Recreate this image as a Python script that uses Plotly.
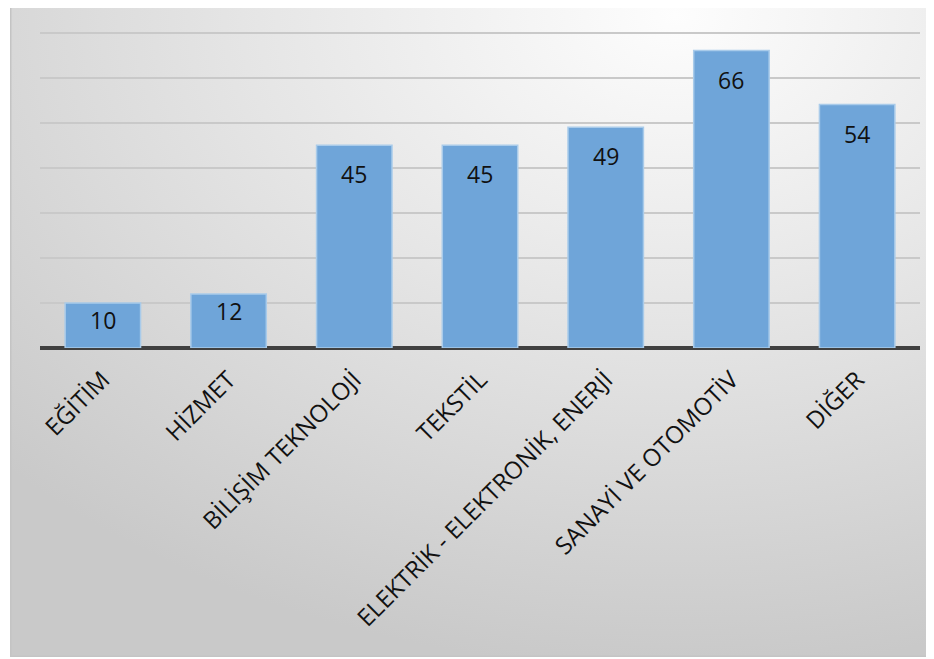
import plotly.graph_objects as go
import urllib.parse

categories = ["EĞİTİM", "HİZMET", "BİLİŞİM TEKNOLOJİ", "TEKSTİL",
              "ELEKTRİK - ELEKTRONİK, ENERJİ", "SANAYİ VE OTOMOTİV", "DİĞER"]
values = [10, 12, 45, 45, 49, 66, 54]
grid_ticks = [0, 10, 20, 30, 40, 50, 60, 70]

svg = ('<svg xmlns="http://www.w3.org/2000/svg" width="924" height="655" preserveAspectRatio="none">'
       '<defs><radialGradient id="g" cx="0.72" cy="0.02" r="1.0" fx="0.72" fy="0.02">'
       '<stop offset="0" stop-color="#fdfdfd"/><stop offset="0.45" stop-color="#e6e6e6"/>'
       '<stop offset="1" stop-color="#c9c9c9"/></radialGradient></defs>'
       '<rect width="924" height="655" fill="url(#g)" stroke="#c4c4c4" stroke-width="3"/></svg>')
src = "data:image/svg+xml;charset=utf-8," + urllib.parse.quote(svg)

fig = go.Figure(go.Bar(
    x=categories, y=values,
    marker=dict(color="#6fa5d9", line=dict(color="#a9cbea", width=1.5)),
    width=0.6,
))

for c, v in zip(categories, values):
    shift = -17 if v < 20 else -29
    fig.add_annotation(x=c, y=v, text=str(v), showarrow=False, yanchor="middle",
                       yshift=shift, font=dict(size=23, color="#111111"))

fig.update_layout(
    width=934, height=659,
    margin=dict(l=32, r=22, t=20, b=319),
    paper_bgcolor="white", plot_bgcolor="rgba(0,0,0,0)",
    font=dict(family="Open Sans, Lato, sans-serif", color="#111111"),
    showlegend=False,
    images=[dict(source=src, xref="paper", yref="paper", x=-30/880, y=1 + 26/320,
                 sizex=924/880, sizey=655/320, xanchor="left", yanchor="top",
                 sizing="stretch", layer="below")],
    xaxis=dict(tickangle=-45, tickfont=dict(size=24, family="Open Sans, sans-serif"),
               showgrid=False, showline=False, ticks="", zeroline=False,
               ticklabelstandoff=12),
    yaxis=dict(range=[0, 71], tickvals=grid_ticks, showticklabels=False,
               showgrid=True, gridcolor="#c9c9c9", gridwidth=1.5,
               zeroline=True, zerolinecolor="#404040", zerolinewidth=4,
               showline=False, ticks=""),
)

fig.write_html("out.html")
